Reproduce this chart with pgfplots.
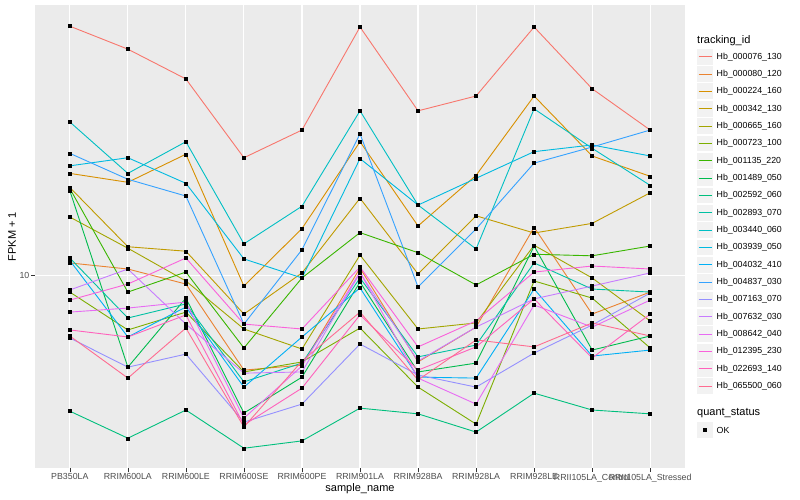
\documentclass[border=0pt]{standalone}
\usepackage{pgfplots}
\pgfplotsset{compat=1.18}
\usepackage{pgfplotstable}
\usepackage{fontspec}
\setmainfont{Liberation Sans}

\definecolor{c1}{HTML}{F8766D}
\definecolor{c2}{HTML}{EA8331}
\definecolor{c3}{HTML}{D89000}
\definecolor{c4}{HTML}{C09B00}
\definecolor{c5}{HTML}{A3A500}
\definecolor{c6}{HTML}{7CAE00}
\definecolor{c7}{HTML}{39B600}
\definecolor{c8}{HTML}{00BB4E}
\definecolor{c9}{HTML}{00BF7D}
\definecolor{c10}{HTML}{00C1A3}
\definecolor{c11}{HTML}{00BFC4}
\definecolor{c12}{HTML}{00BAE0}
\definecolor{c13}{HTML}{00B0F6}
\definecolor{c14}{HTML}{35A2FF}
\definecolor{c15}{HTML}{9590FF}
\definecolor{c16}{HTML}{C77CFF}
\definecolor{c17}{HTML}{E76BF3}
\definecolor{c18}{HTML}{FA62DB}
\definecolor{c19}{HTML}{FF62BC}
\definecolor{c20}{HTML}{FF6C91}
\definecolor{panelbg}{HTML}{EBEBEB}
\definecolor{keybg}{HTML}{F2F2F2}
\definecolor{ticktext}{HTML}{4D4D4D}
\definecolor{tickline}{HTML}{333333}

% rows: PB350LA, RRIM600LA, RRIM600LE, RRIM600SE, RRIM600PE, RRIM901LA,
%       RRIM928BA, RRIM928LA, RRIM928LE, RRII105LA_Control, RRII105LA_Stressed
\pgfplotstableread{
x  s1   s2    s3   s4    s5    s6   s7    s8    s9   s10   s11   s12  s13  s14   s15  s16   s17  s18   s19  s20
0  42.0 10.75 18.0 16.6  14.0  9.09 16.5  16.3  4.58 11.06 24.2  18.8 10.9 20.2  6.98 9.20  8.10 8.68  7.31 7.06
1  36.8 10.38 17.1 11.8  11.7  7.31 9.09  5.90  3.92 7.83  18.0  19.7 7.02 17.4  5.90 10.38 8.29 9.52  7.02 5.54
2  31.0 9.52  20.1 11.5  9.69  8.10 10.2  8.78  4.61 8.49  21.6  17.0 8.34 15.8  6.36 7.56  8.58 11.06 7.97 7.39
3  19.7 5.80  9.41 8.01  7.35  5.74 6.59  4.53  3.70 5.42  12.0  11.0 5.26 7.56  4.30 5.70  4.40 7.56  4.23 4.18
4  23.1 5.97  13.1 10.15 6.55  6.08 9.86  5.57  3.86 6.04  14.9  9.86 7.02 11.6  4.77 5.74  5.94 7.35  5.23 6.11
5  41.8 10.44 21.6 15.6  11.25 7.39 12.8  9.63  4.66 9.86  25.8  19.6 9.31 22.6  6.74 10.15 10.2 10.5  7.97 8.10
6  25.8 6.08  13.3 10.09 7.35  5.26 11.4  5.74  4.51 6.26  15.0  15.0 5.57 9.36  5.64 6.11  5.54 6.63  5.80 5.48
7  28.1 7.43  17.8 14.1  7.61  4.25 9.47  6.04  4.06 6.70  11.65 17.5 5.54 13.07 5.26 7.43  4.77 7.70  6.63 6.90
8  41.8 13.2  28.1 12.77 11.9  9.69 11.3  11.85 5.08 10.75 26.1  20.4 9.25 19.1  6.40 8.74  8.44 10.2  8.74 6.63
9  29.3 8.01  19.9 13.5  9.86  8.78 11.2  6.51  4.61 9.25  20.8  21.2 6.29 20.95 7.52 9.41  7.43 10.56 6.22 7.61
10 23.1 9.09  17.7 16.1  7.70  6.59 11.85 7.06  4.51 9.09  16.8  19.9 6.51 23.1  9.04 10.15 8.68 10.38 8.01 7.06
}\datatable

\newcommand{\ticksize}{\fontsize{8.8bp}{10bp}\selectfont}
\newcommand{\titlesize}{\fontsize{11bp}{13bp}\selectfont}

\begin{document}
\begin{tikzpicture}
\useasboundingbox (0,0) rectangle (800bp,500bp);
\fill[white] (0,0) rectangle (800bp,500bp);
\begin{axis}[
  at={(35bp,32bp)}, anchor=south west,
  scale only axis, width=650bp, height=463bp,
  xmin=-0.6, xmax=10.6,
  ymode=log, ymin=3.302, ymax=47.45,
  axis background/.style={fill=panelbg},
  axis line style={draw=none},
  xmajorgrids, ymajorgrids,
  grid style={white, line width=1.1bp},
  tick align=outside, major tick length=4bp,
  tick style={draw=tickline, line width=0.6bp},
  xtick pos=bottom, ytick pos=left,
  xtick={0,...,10},
  xticklabels={PB350LA,RRIM600LA,RRIM600LE,RRIM600SE,RRIM600PE,RRIM901LA,RRIM928BA,RRIM928LA,RRIM928LE,RRII105LA\_Control,RRII105LA\_Stressed},
  ytick={10}, yticklabels={10},
  minor ytick={}, 
  tick label style={font=\ticksize, text=ticktext},
  xticklabel style={inner sep=1.5bp},
  yticklabel style={inner sep=1.5bp},
]
\pgfplotsinvokeforeach{1,...,20}{
  \addplot[color=c#1, line width=0.9bp, no marks] table[x=x, y=s#1] {\datatable};
}
\pgfplotsinvokeforeach{1,...,20}{
  \addplot[only marks, mark=square*, mark size=1.5bp, color=black] table[x=x, y=s#1] {\datatable};
}
\end{axis}

% axis titles
\node[font=\titlesize, anchor=center] at (360bp, 11bp) {sample\_name};
\node[font=\titlesize, anchor=center, rotate=90] at (12bp, 263.5bp) {FPKM + 1};

% legend: tracking_id
\node[font=\titlesize, anchor=west, inner sep=0] at (697bp, 459.3bp) {tracking\_id};
\foreach \n [count=\i] in {Hb\_000076\_130,Hb\_000080\_120,Hb\_000224\_160,Hb\_000342\_130,Hb\_000665\_160,Hb\_000723\_100,Hb\_001135\_220,Hb\_001489\_050,Hb\_002592\_060,Hb\_002893\_070,Hb\_003440\_060,Hb\_003939\_050,Hb\_004032\_410,Hb\_004837\_030,Hb\_007163\_070,Hb\_007632\_030,Hb\_008642\_040,Hb\_012395\_230,Hb\_022693\_140,Hb\_065500\_060}{
  \pgfmathsetmacro{\yy}{443.3-17.35*(\i-1)}
  \fill[keybg] (697.4bp,\yy bp-7.9bp) rectangle (713.2bp,\yy bp+7.9bp);
  \draw[c\i, line width=1bp] (698.6bp,\yy bp) -- (712bp,\yy bp);
  \node[font=\ticksize, anchor=west, inner sep=0] at (716.5bp,\yy bp) {\n};
}

% legend: quant_status
\node[font=\titlesize, anchor=west, inner sep=0] at (697bp, 87.3bp) {quant\_status};
\fill[keybg] (697.4bp,62.1bp) rectangle (713.2bp,77.9bp);
\fill[black] (703.3bp,68bp) rectangle (707.3bp,72bp);
\node[font=\ticksize, anchor=west, inner sep=0] at (716.5bp,70bp) {OK};
\end{tikzpicture}
\end{document}
